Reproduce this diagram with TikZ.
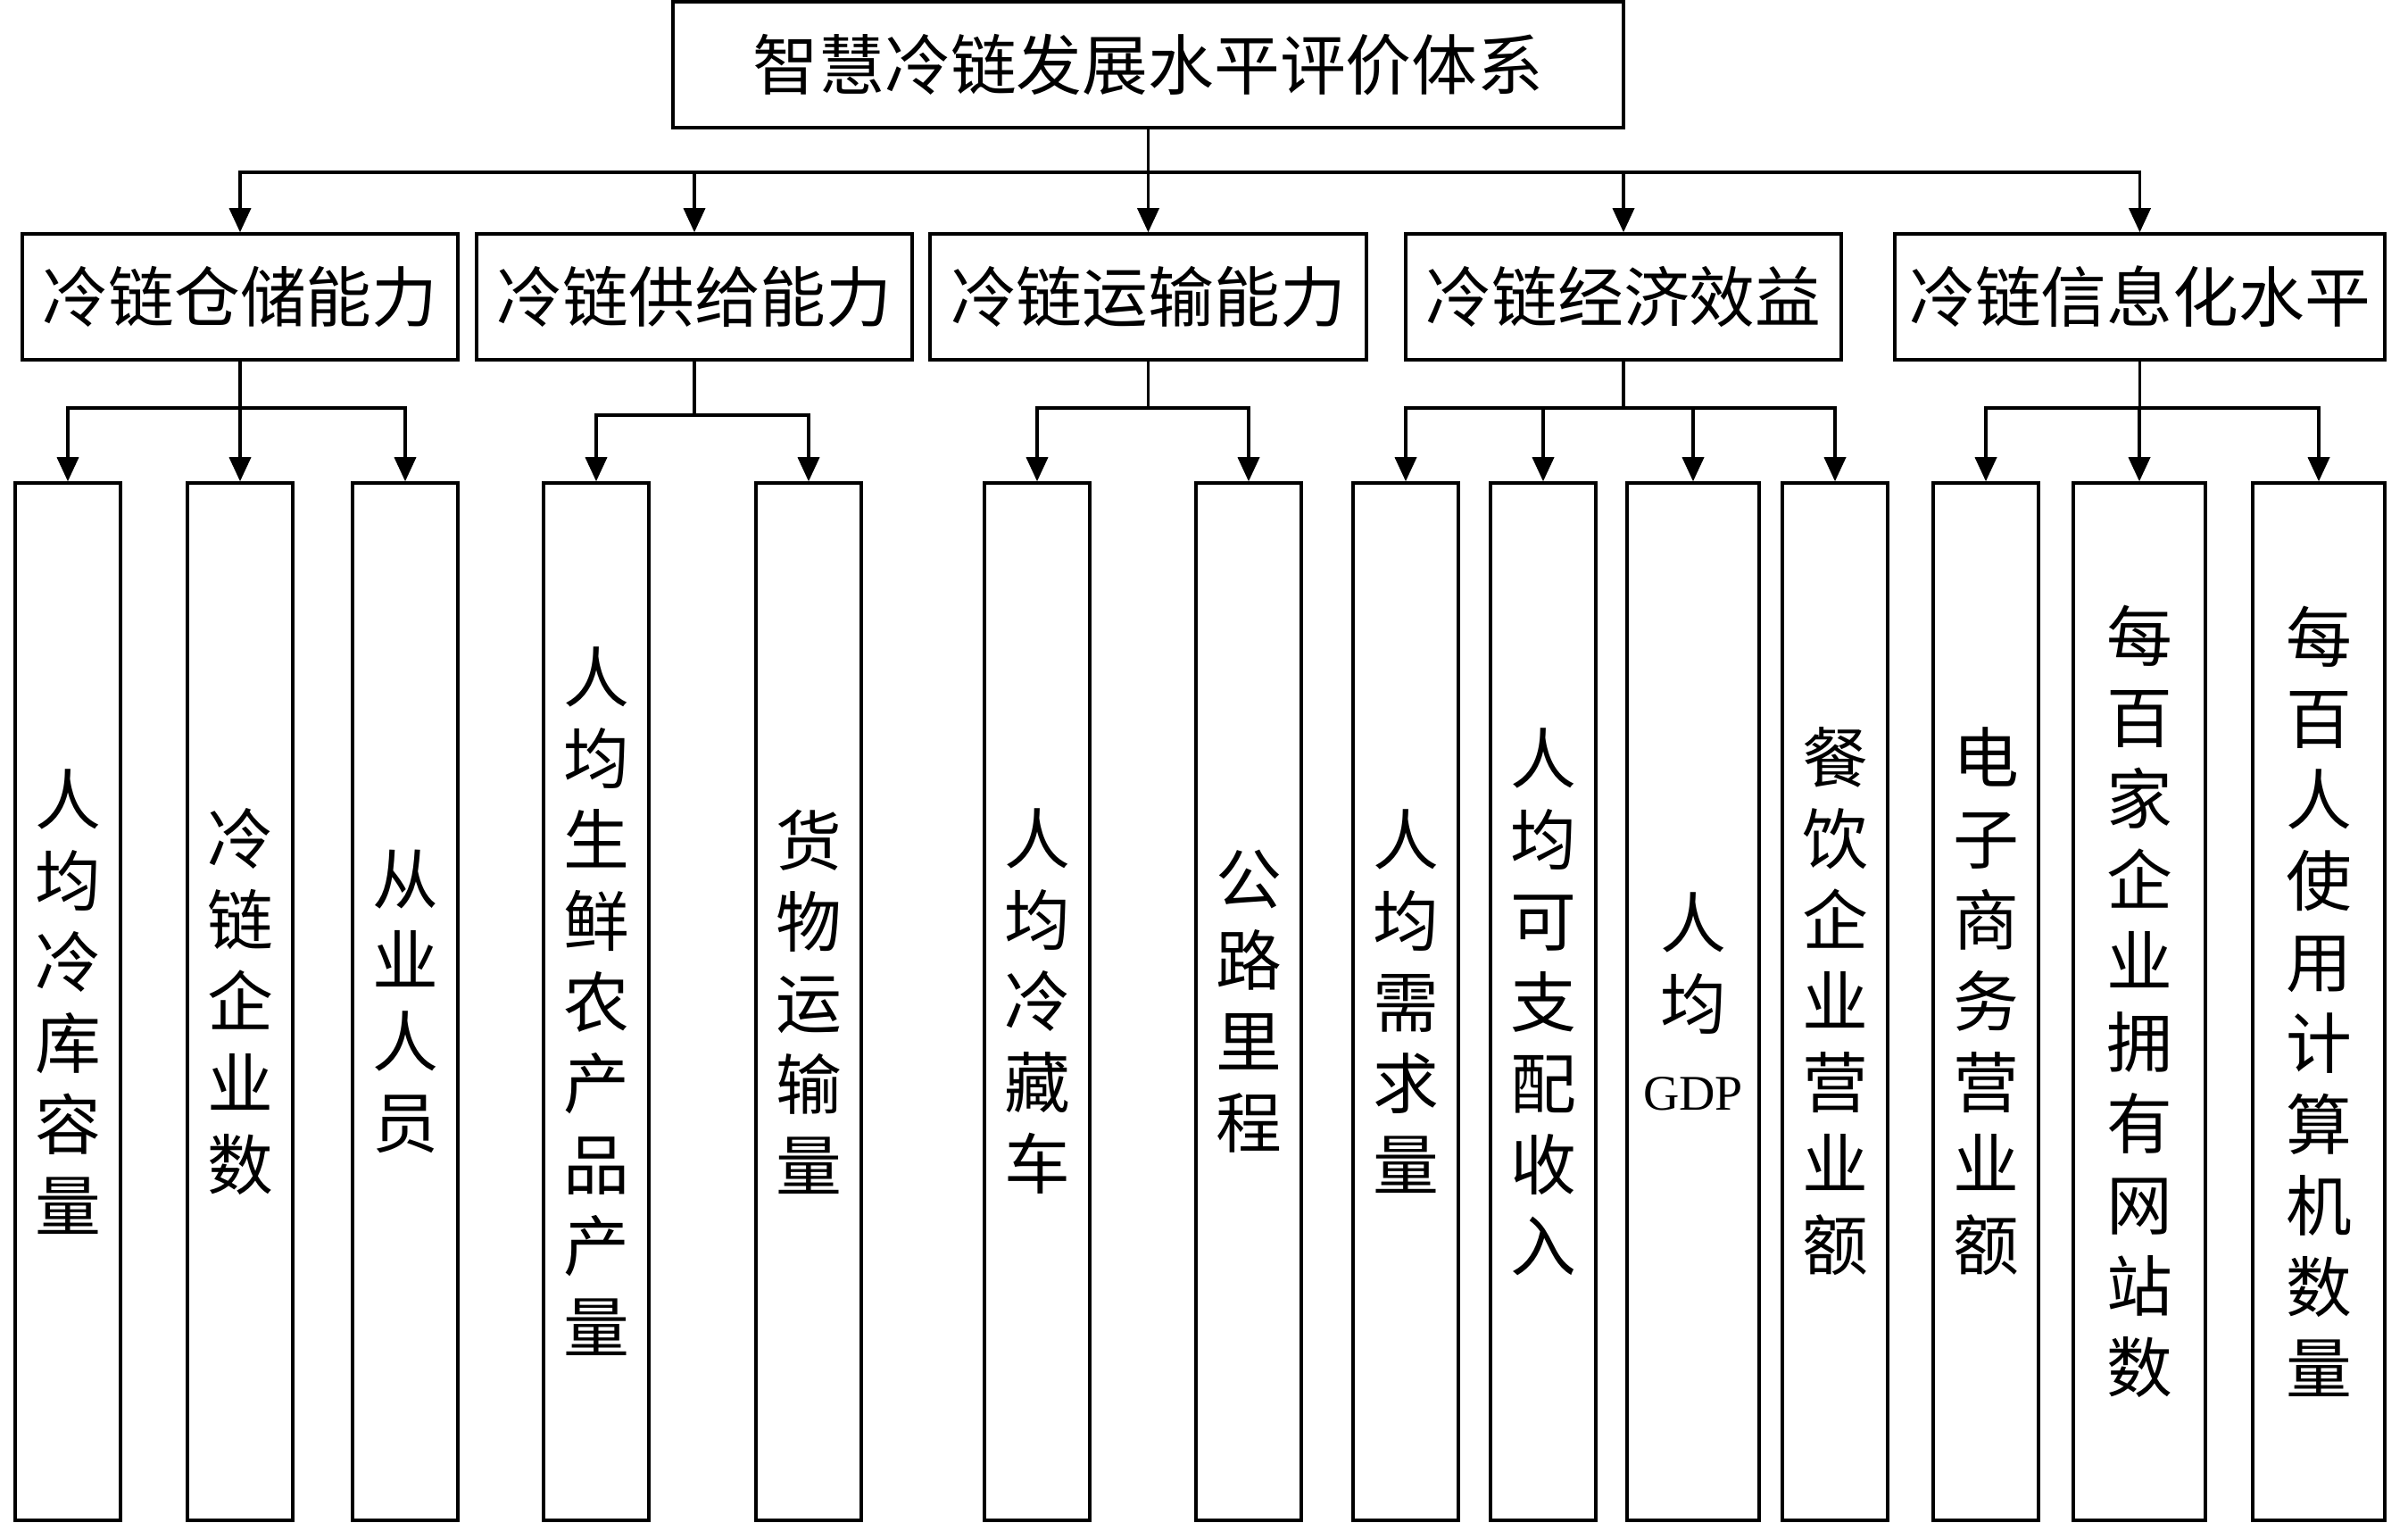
\documentclass[tikz,border=0pt]{standalone}
\usepackage{fontspec}
\usepackage{tikz}
\usetikzlibrary{arrows.meta}
\newfontfamily\cjkfont{Noto Sans CJK SC}
\newfontfamily\latinfont{Liberation Serif}
\tikzstyle{arrow} = [line width=1pt,-{Triangle[length=0.27cm,width=0.24cm]}]
\tikzstyle{headbox} = [draw,line width=1pt,inner sep=0pt,minimum height=1.41cm,font=\cjkfont\fontsize{21pt}{25.9pt}\selectfont]
\tikzstyle{leafbox} = [draw,line width=1pt,inner sep=0pt,minimum width=1.18cm,minimum height=11.62cm,align=center,font=\cjkfont\fontsize{21pt}{25.9pt}\selectfont]

\begin{document}
\begin{tikzpicture}
	\useasboundingbox (0,0) rectangle (26.98,17.05);
	
	% Top level:
	\node[headbox,minimum width=10.65cm] (sys) at (12.865,16.325) {智慧冷链发展水平评价体系};
	
	% Second level:
	\node[headbox,minimum width=4.88cm] (cang) at (2.69,13.725) {冷链仓储能力};
	\node[headbox,minimum width=4.88cm] (gong) at (7.78,13.725) {冷链供给能力};
	\node[headbox,minimum width=4.89cm] (yun) at (12.865,13.725) {冷链运输能力};
	\node[headbox,minimum width=4.88cm] (jing) at (18.19,13.725) {冷链经济效益};
	\node[headbox,minimum width=5.49cm] (xin) at (23.975,13.725) {冷链信息化水平};
	
	% Indicators:
	\node[leafbox] (c1) at (0.76,5.83) {人\\均\\冷\\库\\容\\量};
	\node[leafbox] (c2) at (2.69,5.83) {冷\\链\\企\\业\\数};
	\node[leafbox] (c3) at (4.54,5.83) {从\\业\\人\\员};
	\node[leafbox] (g1) at (6.68,5.83) {人\\均\\生\\鲜\\农\\产\\品\\产\\量};
	\node[leafbox] (g2) at (9.06,5.83) {货\\物\\运\\输\\量};
	\node[leafbox] (y1) at (11.62,5.83) {人\\均\\冷\\藏\\车};
	\node[leafbox] (y2) at (13.99,5.83) {公\\路\\里\\程};
	\node[leafbox] (j1) at (15.75,5.83) {人\\均\\需\\求\\量};
	\node[leafbox] (j2) at (17.29,5.83) {人\\均\\可\\支\\配\\收\\入};
	\node[leafbox,minimum width=1.48cm] (j3) at (18.97,5.83) {人\\均\\{\latinfont\fontsize{15.9pt}{25.9pt}\selectfont GDP}};
	\node[leafbox] (j4) at (20.56,5.83) {餐\\饮\\企\\业\\营\\业\\额};
	\node[leafbox] (x1) at (22.25,5.83) {电\\子\\商\\务\\营\\业\\额};
	\node[leafbox,minimum width=1.48cm] (x2) at (23.97,5.83) {每\\百\\家\\企\\业\\拥\\有\\网\\站\\数};
	\node[leafbox,minimum width=1.48cm] (x3) at (25.98,5.83) {每\\百\\人\\使\\用\\计\\算\\机\\数\\量};
	
	% Connectors:
	\foreach \n in {cang,gong,yun,jing,xin}
		\draw[arrow] (sys.south) -- ++(0,-0.48) -| (\n.north);
	\foreach \n in {c1,c2,c3}
		\draw[arrow] (cang.south) -- ++(0,-0.52) -| (\n.north);
	\foreach \n in {g1,g2}
		\draw[arrow] (gong.south) -- ++(0,-0.60) -| (\n.north);
	\foreach \n in {y1,y2}
		\draw[arrow] (yun.south) -- ++(0,-0.52) -| (\n.north);
	\foreach \n in {j1,j2,j3,j4}
		\draw[arrow] (jing.south) -- ++(0,-0.52) -| (\n.north);
	\foreach \n in {x1,x2,x3}
		\draw[arrow] (xin.south) -- ++(0,-0.52) -| (\n.north);
	
\end{tikzpicture}
\end{document}
